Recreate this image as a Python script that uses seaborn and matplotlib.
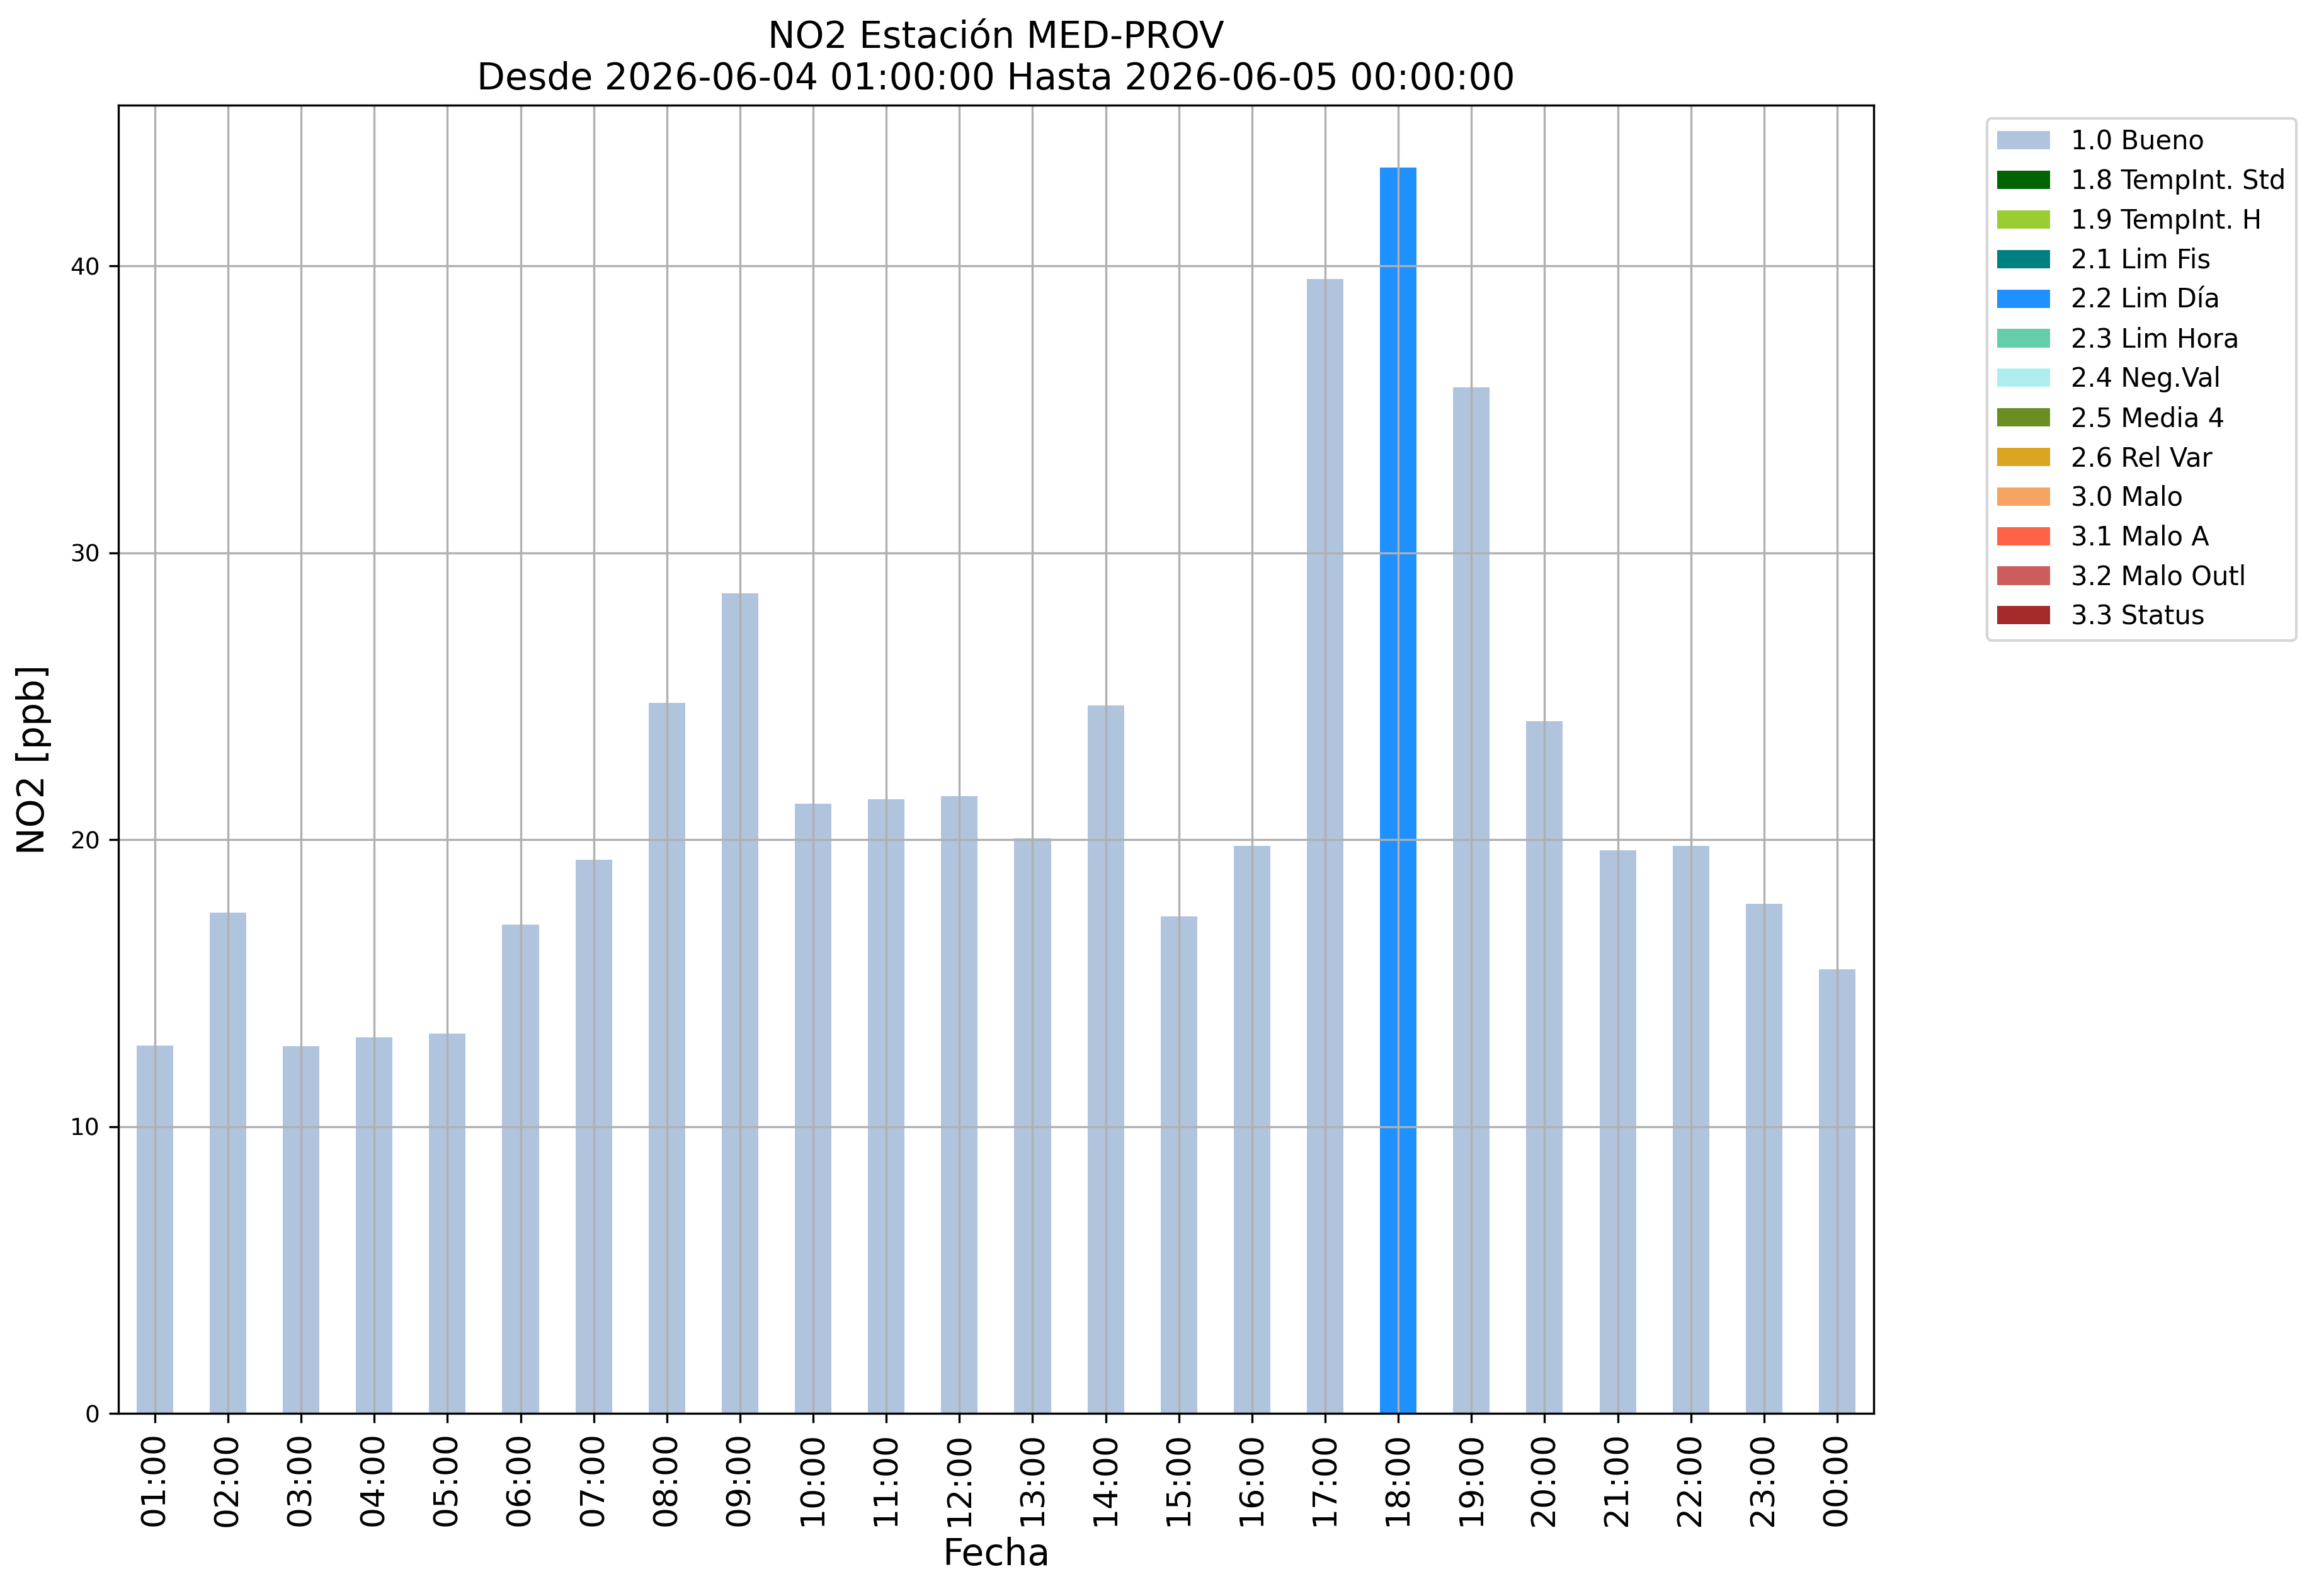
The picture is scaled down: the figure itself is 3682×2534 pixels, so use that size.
import pandas as pd
import matplotlib
matplotlib.use('Agg')
import matplotlib.pyplot as plt
from matplotlib.patches import Patch
import seaborn as sns


horas = ['01:00', '02:00', '03:00', '04:00', '05:00', '06:00', '07:00', '08:00',
         '09:00', '10:00', '11:00', '12:00', '13:00', '14:00', '15:00', '16:00',
         '17:00', '18:00', '19:00', '20:00', '21:00', '22:00', '23:00', '00:00']
no2 = [12.82, 17.45, 12.81, 13.12, 13.24, 17.04, 19.30, 24.76,
       28.58, 21.26, 21.41, 21.51, 20.05, 24.68, 17.33, 19.78,
       39.54, 43.43, 35.76, 24.14, 19.64, 19.79, 17.77, 15.47]
banderas = ['1.0 Bueno'] * 17 + ['2.2 Lim Día'] + ['1.0 Bueno'] * 6

categorias = ['1.0 Bueno', '1.8 TempInt. Std', '1.9 TempInt. H', '2.1 Lim Fis',
              '2.2 Lim Día', '2.3 Lim Hora', '2.4 Neg.Val', '2.5 Media 4',
              '2.6 Rel Var', '3.0 Malo', '3.1 Malo A', '3.2 Malo Outl', '3.3 Status']
colores = ['#B0C4DE', '#006400', '#9ACD32', '#008080', '#1E90FF', '#66CDAA',
           '#AFEEEE', '#6B8E23', '#DAA520', '#F4A460', '#FF6347', '#CD5C5C', '#A52A2A']
paleta = dict(zip(categorias, colores))

df = pd.DataFrame({'Fecha': horas, 'NO2': no2, 'Bandera': banderas})

fig = plt.figure(figsize=(3682 / 300, 2534 / 300))
ax = fig.add_axes([0.051, 0.1144, 0.757, 0.8197])

# barras por hora, coloreadas segun la bandera de calidad
sns.barplot(data=df, x='Fecha', y='NO2', hue='Bandera', hue_order=categorias,
            palette=paleta, dodge=False, width=0.5, legend=False, ax=ax,
            saturation=1, linewidth=0)

ax.grid(True)
ax.set_xlim(-0.5, len(horas) - 0.5)
ax.set_title('NO2 Estación MED-PROV\nDesde 2026-06-04 01:00:00 Hasta 2026-06-05 00:00:00',
             fontsize=14)
ax.set_xlabel('Fecha', fontsize=14)
ax.set_ylabel('NO2 [ppb]', fontsize=14, labelpad=7)
ax.tick_params(axis='x', labelsize=12.5, rotation=90)
ax.tick_params(axis='y', labelsize=9)

handles = [Patch(facecolor=paleta[c], label=c) for c in categorias]
ax.legend(handles=handles, bbox_to_anchor=(1.057, 1), loc='upper left', fontsize=10)

fig.savefig('out.png', dpi=300)
